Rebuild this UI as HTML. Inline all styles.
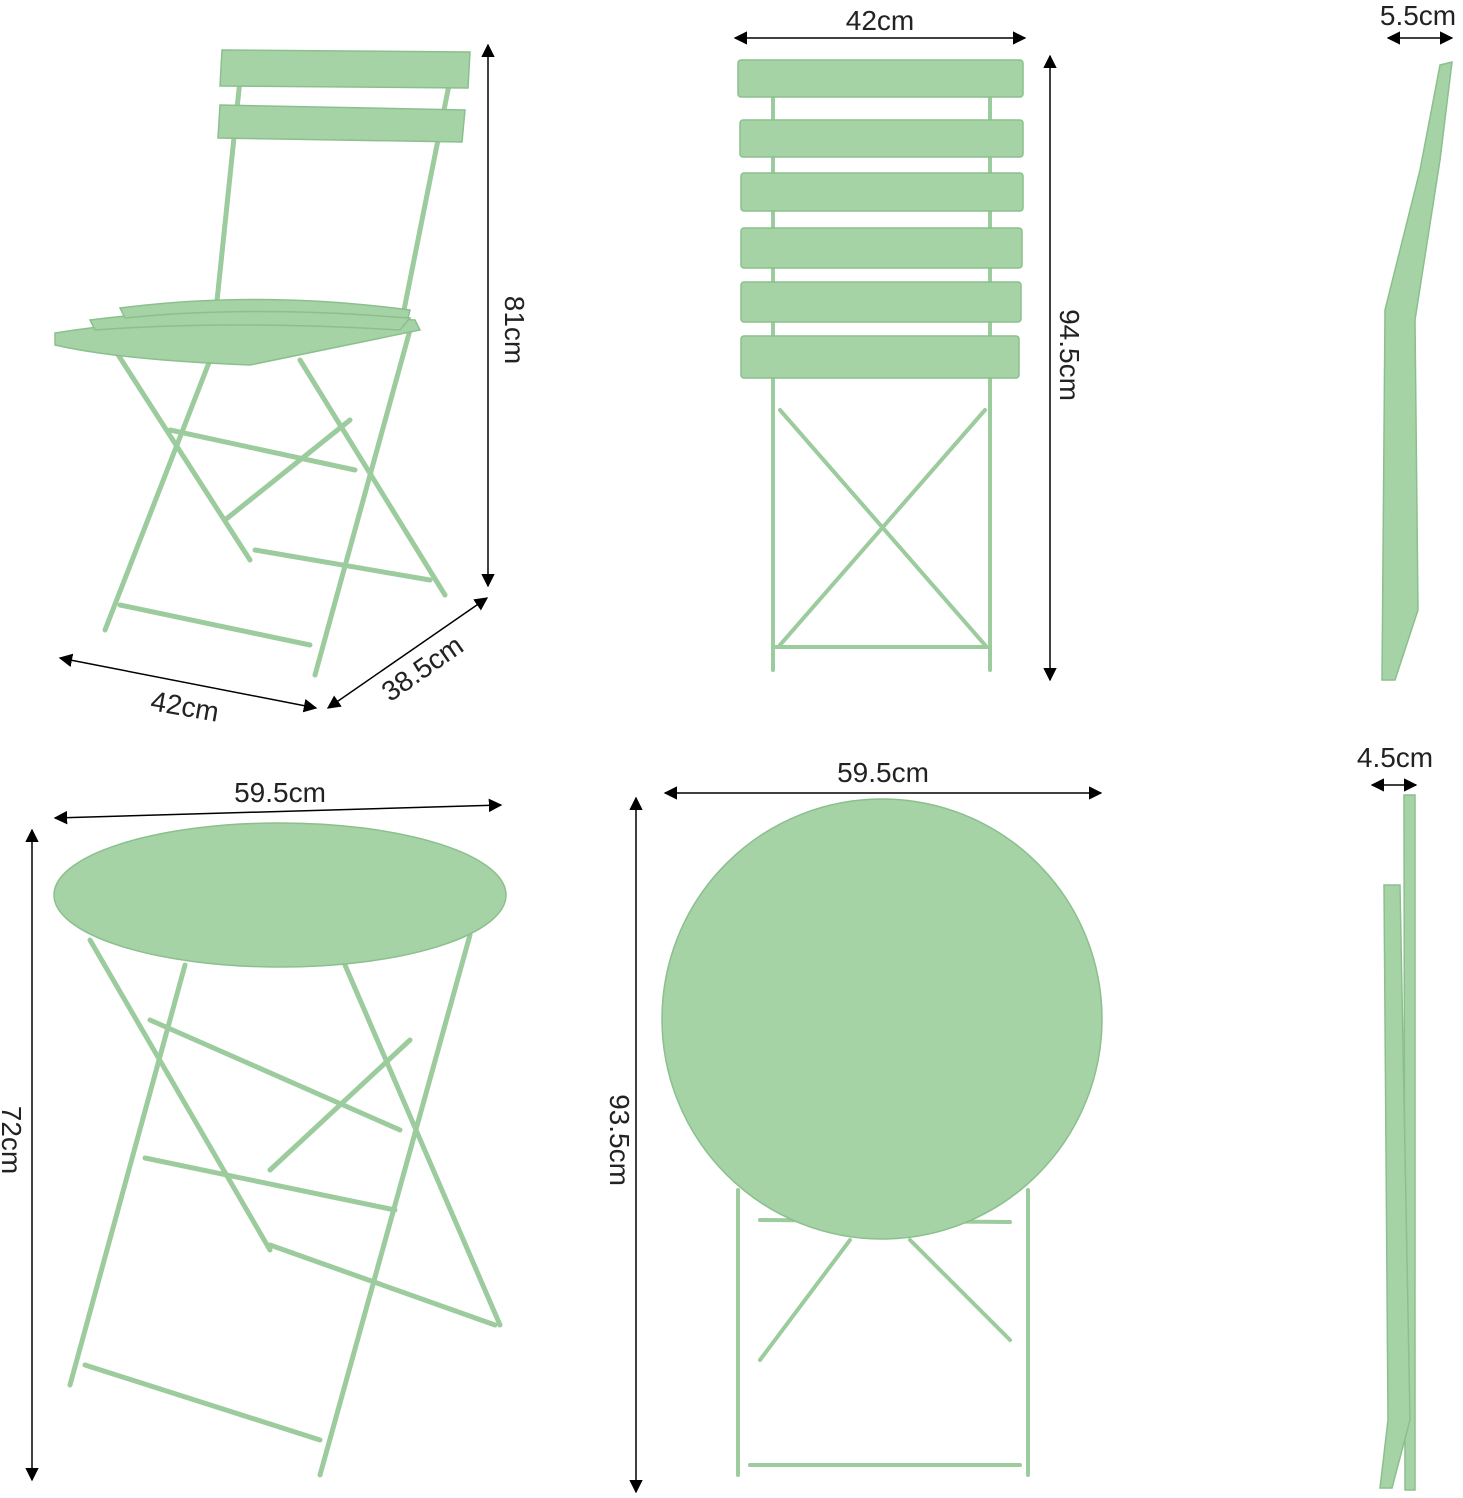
<!DOCTYPE html>
<html><head><meta charset="utf-8"><style>
html,body{margin:0;padding:0;background:#fff;}
svg{display:block}
text{font-family:"Liberation Sans",sans-serif;font-size:28px;fill:#222}
</style></head><body>
<svg width="1463" height="1498" viewBox="0 0 1463 1498" xmlns="http://www.w3.org/2000/svg">
<defs>
<marker id="a" viewBox="0 0 10 10" refX="9" refY="5" markerWidth="9" markerHeight="9" orient="auto-start-reverse"><path d="M0,0 L10,5 L0,10 z" fill="#000"/></marker>
</defs>
<g stroke="#000" stroke-width="1.5" marker-start="url(#a)" marker-end="url(#a)">
<line x1="488" y1="45" x2="488" y2="586"/>
<line x1="60" y1="658" x2="316" y2="708"/>
<line x1="328" y1="708" x2="487" y2="598"/>
<line x1="735" y1="38" x2="1025" y2="38"/>
<line x1="1050" y1="56" x2="1050" y2="680"/>
<line x1="1388" y1="38" x2="1452" y2="38"/>
<line x1="55" y1="818" x2="501" y2="805"/>
<line x1="32" y1="830" x2="32" y2="1480"/>
<line x1="665" y1="793" x2="1101" y2="793"/>
<line x1="636" y1="798" x2="636" y2="1492"/>
<line x1="1372" y1="785" x2="1416" y2="785"/>
</g>
<text x="505" y="330" transform="rotate(90 505 330)" text-anchor="middle">81cm</text>
<text x="185" y="716" transform="rotate(10 185 706)" text-anchor="middle">42cm</text>
<text x="422" y="678" transform="rotate(-35 422 668)" text-anchor="middle">38.5cm</text>
<text x="880" y="30" text-anchor="middle">42cm</text>
<text x="1060" y="355" transform="rotate(90 1060 355)" text-anchor="middle">94.5cm</text>
<text x="1418" y="25" text-anchor="middle">5.5cm</text>
<text x="280" y="802" text-anchor="middle">59.5cm</text>
<text x="2" y="1140" transform="rotate(90 2 1140)" text-anchor="middle">72cm</text>
<text x="883" y="782" text-anchor="middle">59.5cm</text>
<text x="610" y="1140" transform="rotate(90 610 1140)" text-anchor="middle">93.5cm</text>
<text x="1395" y="767" text-anchor="middle">4.5cm</text>

<g fill="#a5d3a6" stroke="#8cbf8e" stroke-width="1.5" stroke-linecap="round">
<g fill="none" stroke="#9ccb9d" stroke-width="5">
<line x1="240" y1="80" x2="215" y2="320"/><line x1="450" y1="80" x2="400" y2="330"/>
<line x1="115" y1="350" x2="250" y2="560"/><line x1="210" y1="360" x2="105" y2="630"/>
<line x1="300" y1="360" x2="445" y2="595"/><line x1="410" y1="330" x2="315" y2="675"/>
<line x1="120" y1="605" x2="310" y2="645"/><line x1="255" y1="550" x2="430" y2="580"/>
<line x1="170" y1="430" x2="355" y2="470"/><line x1="225" y1="520" x2="350" y2="420"/>
</g>
<path d="M222,50 L470,52 L468,88 L220,86 Z"/>
<path d="M220,105 L465,110 L462,142 L218,138 Z"/>
<path d="M55,333 Q200,310 415,320 L420,330 Q300,355 250,365 Q120,360 55,345 Z"/>
<path d="M90,320 Q250,300 410,318 L400,330 Q230,320 95,330 Z"/>
<path d="M120,308 Q260,290 410,310 L408,318 Q250,305 125,318 Z"/>
<g fill="none" stroke="#9ccb9d" stroke-width="4">
<line x1="773" y1="90" x2="773" y2="670"/><line x1="990" y1="90" x2="990" y2="670"/>
<line x1="780" y1="410" x2="985" y2="645"/><line x1="985" y1="410" x2="780" y2="645"/>
<line x1="775" y1="647" x2="990" y2="647"/>
</g>
<rect x="738" y="60" width="285" height="37" rx="3"/>
<rect x="740" y="120" width="283" height="37" rx="3"/>
<rect x="741" y="173" width="282" height="38" rx="3"/>
<rect x="741" y="228" width="281" height="40" rx="3"/>
<rect x="741" y="282" width="280" height="40" rx="3"/>
<rect x="741" y="336" width="278" height="42" rx="3"/>
<path d="M1440,65 L1452,62 L1440,160 L1415,320 L1418,610 L1395,680 L1382,680 L1385,310 L1420,170 Z"/>
<g fill="none" stroke="#9ccb9d" stroke-width="5">
<line x1="90" y1="940" x2="270" y2="1250"/><line x1="185" y1="965" x2="70" y2="1385"/>
<line x1="345" y1="965" x2="500" y2="1325"/><line x1="470" y1="935" x2="320" y2="1475"/>
<line x1="85" y1="1365" x2="320" y2="1440"/><line x1="270" y1="1245" x2="495" y2="1325"/>
<line x1="145" y1="1158" x2="395" y2="1210"/><line x1="150" y1="1020" x2="400" y2="1130"/>
<line x1="270" y1="1170" x2="410" y2="1040"/>
</g>
<ellipse cx="280" cy="895" rx="226" ry="72"/>
<g fill="none" stroke="#9ccb9d" stroke-width="4">
<line x1="738" y1="1190" x2="738" y2="1475"/><line x1="1028" y1="1190" x2="1028" y2="1475"/>
<line x1="760" y1="1220" x2="1010" y2="1222"/><line x1="750" y1="1465" x2="1020" y2="1465"/>
<line x1="760" y1="1360" x2="850" y2="1240"/><line x1="1010" y1="1340" x2="910" y2="1240"/>
</g>
<circle cx="882" cy="1019" r="220"/>
<path d="M1404,795 L1415,795 L1415,1490 L1405,1490 Z"/>
<path d="M1384,885 L1400,885 L1410,1420 L1392,1488 L1380,1488 L1388,1420 Z"/>
</g>
</svg>
</body></html>
